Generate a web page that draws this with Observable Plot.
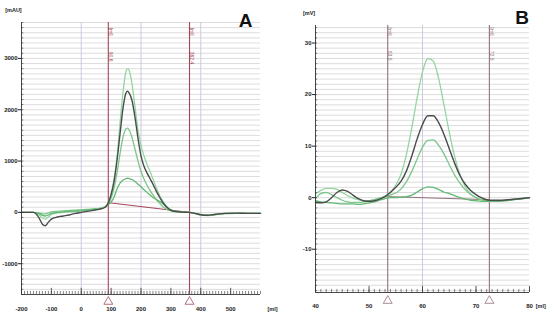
<!DOCTYPE html>
<html><head><meta charset="utf-8">
<script src="https://cdn.jsdelivr.net/npm/d3@7"></script>
<script src="https://cdn.jsdelivr.net/npm/@observablehq/plot@0.6"></script>
<style>
html,body{margin:0;padding:0;background:#fff;}
#wrap{position:relative;width:550px;height:320px;overflow:hidden;background:#fff;}
#a,#b{position:absolute;top:0;}
#a{left:0;} #b{left:275px;}
</style></head><body>
<div id="wrap"><div id="a"></div><div id="b"></div></div>
<script>
// ---------- Panel A data ----------
const xA = [-200,-160,-140,-130,-120,-110,-100,-80,-60,-40,-20,0,20,40,60,80,90,100,110,120,130,140,150,155,160,170,180,190,200,210,220,230,240,250,260,270,280,290,300,320,340,360,380,400,420,440,460,480,520,560,600];
const darkA  = [0,0,-120,-230,-260,-190,-130,-90,-70,-50,-20,0,20,40,60,100,180,350,610,1030,1540,2040,2330,2360,2330,2180,1850,1440,1100,900,770,660,550,430,320,220,140,80,40,15,5,0,-20,-45,-55,-45,-30,-20,-15,-20,-20];
const lightA = [0,0,-60,-110,-130,-90,-40,-10,0,10,20,30,45,60,75,110,170,350,650,1080,1750,2350,2750,2800,2770,2500,2050,1600,1300,1100,940,800,650,500,360,250,160,90,50,20,5,0,-20,-50,-65,-50,-35,-25,-20,-20,-20];
const midA   = [0,0,-10,-30,-30,-10,10,20,30,40,45,50,60,70,80,110,160,280,480,780,1150,1470,1630,1640,1610,1460,1230,1000,800,650,530,430,340,260,190,130,80,50,30,10,0,0,-15,-40,-55,-45,-30,-20,-15,-20,-20];
const smallA = [0,0,-30,-60,-70,-50,-20,0,10,20,25,35,45,55,70,100,150,200,300,460,570,630,660,665,660,640,600,550,500,440,390,340,290,255,220,185,140,90,50,15,5,0,-20,-45,-60,-50,-35,-25,-20,-20,-20];
const baseA = {x: [90, 362], y: [190, 0]};
const markersA = [90.6, 362.4];
const markerLabelsA = ["90.6", "362.4"];
const yTicksA = [-1000, 0, 1000, 2000, 3000];
const xTicksA = [-200, -100, 0, 100, 200, 300, 400, 500];
const vGridA = [0, 200, 400];

// ---------- Panel B data ----------
const xB = [40,41,42,43,44,45,46,47,48,49,50,51,52,53,54,55,56,57,58,59,60,61,62,63,64,65,66,67,68,69,70,71,72,73,74,76,78,80];
const darkB  = [-0.9,-1.0,-0.8,0.0,1.0,1.5,1.2,0.5,-0.2,-0.6,-0.7,-0.6,-0.3,0.2,1.0,2.0,3.2,5.2,8.1,11.4,14.2,15.9,15.9,14.6,12.3,9.5,6.7,4.3,2.6,1.4,0.6,0.0,-0.4,-0.5,-0.5,-0.4,-0.2,0.0];
const lightB = [0.7,1.4,1.8,1.8,1.6,1.0,0.4,-0.1,-0.4,-0.6,-0.6,-0.4,-0.1,0.3,1.1,2.4,4.6,8.4,13.6,19.4,24.4,27.0,26.5,23.2,18.1,12.7,8.0,4.5,2.1,0.7,0.0,-0.4,-0.6,-0.7,-0.7,-0.5,-0.3,0.0];
const midB   = [-0.2,0.8,1.0,0.6,0.0,-0.5,-0.8,-0.9,-0.9,-0.8,-0.6,-0.4,-0.1,0.2,0.5,0.9,1.7,3.1,5.1,7.5,9.8,11.1,11.2,10.2,8.5,6.4,4.4,2.8,1.5,0.6,0.0,-0.4,-0.6,-0.7,-0.7,-0.5,-0.3,0.0];
const smallB = [-0.6,-0.8,-0.9,-1.0,-1.1,-1.2,-1.2,-1.2,-1.3,-1.2,-1.0,-0.8,-0.5,-0.2,0.0,0.0,0.1,0.2,0.5,1.1,1.7,2.1,2.0,1.6,1.1,0.8,0.4,0.0,-0.3,-0.5,-0.6,-0.7,-0.7,-0.7,-0.7,-0.5,-0.3,0.0];
const baseB = {x: [53.5, 72.5], y: [0.2, -0.4]};
const markersB = [53.5, 72.5];
const markerLabelsB = ["53.5", "72.5"];
const yTicksB = [-10, 0, 10, 20, 30];
const xTicksB = [40, 50, 60, 70, 80];
const vGridB = [60];

// ---------- styles ----------
const colLight = "#93d6a0", colMid = "#7cc68b", colSmall = "#62b874", colDark = "#4b4b4b";
const font = "'Liberation Sans', Arial, sans-serif";

function rows(xs, ys) { return xs.map((x, i) => ({x, y: ys[i]})); }
function seg(o) { return o.x.map((x, i) => ({x, y: o.y[i]})); }

function panel(cfg) {
  const [x0, x1] = cfg.xDomain, [y0, y1] = cfg.yDomain;
  return Plot.plot({
    width: cfg.width, height: 320,
    marginLeft: cfg.ml, marginRight: cfg.mr, marginTop: cfg.mt, marginBottom: cfg.mb,
    x: {domain: cfg.xDomain, label: null}, y: {domain: cfg.yDomain, label: null},
    style: {fontFamily: font, fontSize: "6px", background: "transparent", overflow: "visible", color: "#222"},
    marks: [
      Plot.ruleY(cfg.gridY, {stroke: "#d9d9d9", strokeWidth: 0.9}),
      Plot.ruleX(cfg.vGrid, {stroke: "#cbc3dd", strokeWidth: 0.9}),
      Plot.ruleX(cfg.markers, {stroke: cfg.markerColor, strokeWidth: 1.1}),
      Plot.line(seg(cfg.base), {x: "x", y: "y", stroke: cfg.markerColor, strokeWidth: 1}),
      Plot.line(rows(cfg.xs, cfg.light), {x: "x", y: "y", stroke: colLight, strokeWidth: 1.3, curve: "monotone-x"}),
      Plot.line(rows(cfg.xs, cfg.mid), {x: "x", y: "y", stroke: colMid, strokeWidth: 1.3, curve: "monotone-x"}),
      Plot.line(rows(cfg.xs, cfg.small), {x: "x", y: "y", stroke: colSmall, strokeWidth: 1.3, curve: "monotone-x"}),
      Plot.line(rows(cfg.xs, cfg.dark), {x: "x", y: "y", stroke: colDark, strokeWidth: 1.4, curve: "monotone-x"}),
      // marker labels (rotated)
      Plot.text(cfg.markers, {x: d => d, y: cfg.unitLabelY, text: () => "[ml]", rotate: 90, dx: 2, fill: cfg.markerColor, fontSize: 5, textAnchor: "start"}),
      Plot.text(cfg.markers, {x: d => d, y: cfg.valLabelY, text: (d, i) => cfg.markerLabels[i], rotate: 90, dx: 2, fill: cfg.markerColor, fontSize: 5, textAnchor: "start"}),
      // triangles under markers
      Plot.dot(cfg.markers, {x: d => d, y: cfg.triY, symbol: "triangle", r: 3.3, stroke: cfg.markerColor, fill: "white", strokeWidth: 0.8}),
      // axis lines
      Plot.ruleX([x0], {stroke: "#333", strokeWidth: 0.9}),
      Plot.ruleY([y0], {stroke: "#333", strokeWidth: 0.9}),
      // minor ticks (inward)
      Plot.ruleY(cfg.minorY, {x1: x0, x2: x0 + cfg.minorYLen, stroke: "#333", strokeWidth: 0.6}),
      Plot.ruleX(cfg.minorX, {y1: y0, y2: y0 + cfg.minorXLen, stroke: "#333", strokeWidth: 0.6}),
      Plot.ruleX(cfg.xTicks, {y1: y0, y2: y0 + cfg.minorXLen * 2, stroke: "#333", strokeWidth: 0.8}),
      Plot.axisY(cfg.yTicks, {anchor: "left", label: null, tickSize: 3, tickPadding: 1, tickFormat: d => String(d), fontWeight: "bold"}),
      Plot.axisX(cfg.xTicks, {anchor: "bottom", label: null, tickSize: 0, tickPadding: cfg.xPad, tickFormat: d => String(d), fontWeight: "bold"}),
      // units
      Plot.text([cfg.yUnit], {x: cfg.yUnitPos[0], y: cfg.yUnitPos[1], text: d => d, fontWeight: "bold", fontSize: 5.5}),
      Plot.text(["[ml]"], {x: cfg.xUnitPos[0], y: cfg.xUnitPos[1], text: d => d, fontWeight: "bold", fontSize: 5.5}),
      // panel letter
      Plot.text([cfg.letter], {x: cfg.letterPos[0], y: cfg.letterPos[1], text: d => d, fontWeight: "bold", fontSize: 19, fill: "#111"})
    ]
  });
}

const plotA = panel({
  width: 280, ml: 21, mr: 20, mt: 22, mb: 26,
  xDomain: [-200, 600], yDomain: [-1600, 3700],
  gridY: d3.range(-1500, 3701, 100), vGrid: vGridA,
  markers: markersA, markerLabels: markerLabelsA, markerColor: "#a5475a",
  base: baseA, xs: xA, light: lightA, mid: midA, small: smallA, dark: darkA,
  unitLabelY: 3600, valLabelY: 3130, triY: -1740,
  minorY: d3.range(-1600, 3701, 100), minorYLen: 8,
  minorX: d3.range(-200, 601, 10), minorXLen: 60,
  xTicks: xTicksA, yTicks: yTicksA, xPad: 12,
  yUnit: "[mAU]", yUnitPos: [-227, 3940], xUnitPos: [640, -1890],
  letter: "A", letterPos: [550, 3740]
});

const plotB = panel({
  width: 275, ml: 40, mr: 21, mt: 25, mb: 28,
  xDomain: [40, 80], yDomain: [-18.4, 33.4],
  gridY: d3.range(-18, 34, 1), vGrid: vGridB,
  markers: markersB, markerLabels: markerLabelsB, markerColor: "#94707a",
  base: baseB, xs: xB, light: lightB, mid: midB, small: smallB, dark: darkB,
  unitLabelY: 33.0, valLabelY: 28.5, triY: -20.0,
  minorY: d3.range(-18, 34, 1), minorYLen: 0.4,
  minorX: d3.range(40, 80.5, 1), minorXLen: 0.6,
  xTicks: xTicksB, yTicks: yTicksB, xPad: 11,
  yUnit: "[mV]", yUnitPos: [38.8, 35.8], xUnitPos: [82.1, -21.0],
  letter: "B", letterPos: [78.6, 34.8]
});

document.getElementById("a").appendChild(plotA);
document.getElementById("b").appendChild(plotB);
</script>
</body></html>
